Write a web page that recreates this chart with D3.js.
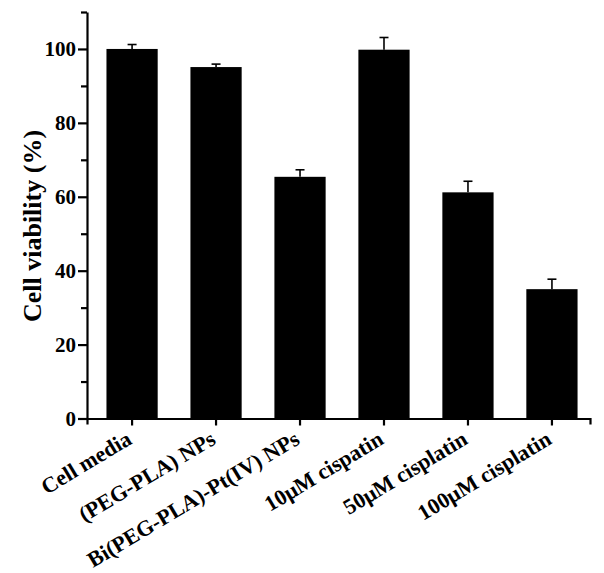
<!DOCTYPE html>
<html><head><meta charset="utf-8">
<script src="https://cdn.jsdelivr.net/npm/d3@7"></script>
<style>body{margin:0;background:#fff;} svg{display:block;}</style>
</head><body>
<script>
const categories = ["Cell media","(PEG-PLA) NPs","Bi(PEG-PLA)-Pt(IV) NPs","10\u03bcM cispatin","50\u03bcM cisplatin","100\u03bcM cisplatin"];
const viability = [100.0, 95.1, 65.4, 99.8, 61.2, 35.0];
const errorUp = [1.2, 0.8, 1.9, 3.3, 3.0, 2.7];
const yTicks = [0,20,40,60,80,100];
const yMinorTicks = [10,30,50,70,90,110];

const W=604,H=573;
const svg=d3.select("body").append("svg").attr("width",W).attr("height",H);
const font="'Liberation Serif','Times New Roman',serif";

const y=d3.scaleLinear().domain([0,110]).range([418.5,12]);
const x=d3.scaleBand().domain(categories).range([87,590]).paddingInner(0.39).paddingOuter(0.19).align(0.61);

// bars
svg.append("g").selectAll("rect").data(categories).join("rect")
  .attr("x",d=>x(d)).attr("width",x.bandwidth())
  .attr("y",(d,i)=>y(viability[i])).attr("height",(d,i)=>y(0)-y(viability[i]))
  .attr("fill","#000");

// error bars
const eg=svg.append("g").attr("stroke","#000").attr("stroke-width",1.6);
categories.forEach((c,i)=>{
  const cx=x(c)+x.bandwidth()/2;
  eg.append("line").attr("x1",cx).attr("x2",cx).attr("y1",y(viability[i])).attr("y2",y(viability[i]+errorUp[i]));
  eg.append("line").attr("x1",cx-4.5).attr("x2",cx+4.5).attr("y1",y(viability[i]+errorUp[i])).attr("y2",y(viability[i]+errorUp[i]));
});

// y axis
const ya=svg.append("g").attr("transform","translate(87,0)")
  .call(d3.axisLeft(y).tickValues(yTicks).tickSize(9).tickSizeOuter(0).tickPadding(2));
ya.selectAll("path,line").attr("stroke","#000").attr("stroke-width",2.2);
ya.selectAll("text").attr("font-family",font).attr("font-weight","bold").attr("font-size","21px").attr("fill","#000");
const ym=svg.append("g").attr("transform","translate(87,0)")
  .call(d3.axisLeft(y).tickValues(yMinorTicks).tickSize(6).tickFormat(""));
ym.select("path").remove();
ym.selectAll("line").attr("stroke","#000").attr("stroke-width",2.2);

// x axis
const xa=svg.append("g").attr("transform","translate(0,"+y(0)+")")
  .call(d3.axisBottom(x).tickSize(7).tickSizeOuter(6).tickFormat(""));
xa.selectAll("path,line").attr("stroke","#000").attr("stroke-width",2.2);

svg.append("g").selectAll("text").data(categories).join("text")
  .attr("transform",d=>"translate("+(x(d)+x.bandwidth()/2+1)+",443) rotate(-31)")
  .attr("text-anchor","end")
  .attr("font-family",font).attr("font-weight","bold").attr("font-size","22px").attr("fill","#000")
  .text(d=>d);

svg.append("text")
  .attr("transform","translate(41,226) rotate(-90)")
  .attr("text-anchor","middle")
  .attr("font-family",font).attr("font-weight","bold").attr("font-size","26px").attr("fill","#000")
  .text("Cell viability (%)");
</script>
</body></html>
